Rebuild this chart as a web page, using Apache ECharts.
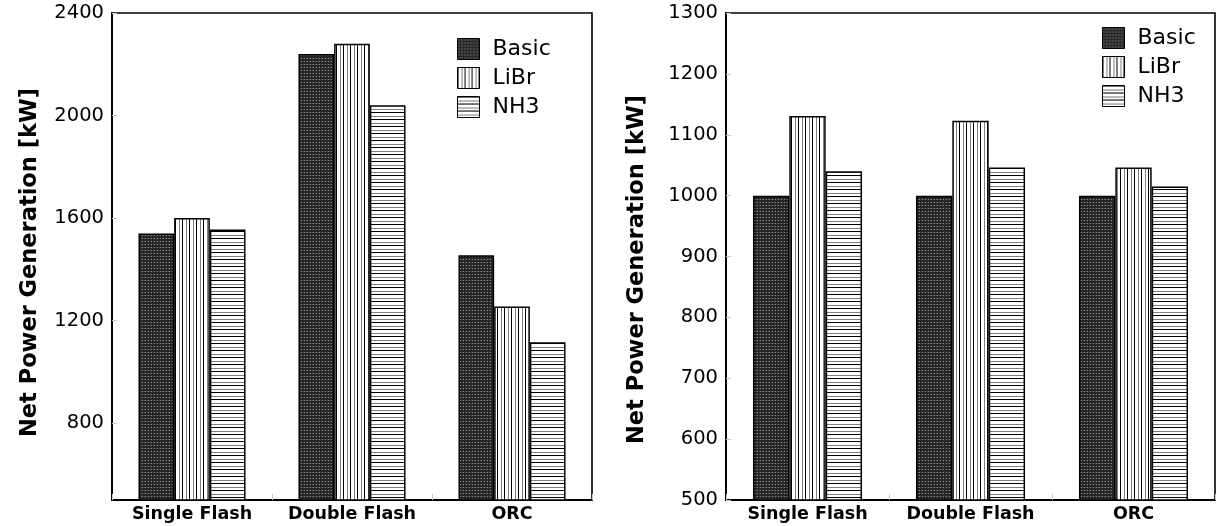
<!DOCTYPE html>
<html>
<head>
<meta charset="utf-8">
<script src="https://cdn.jsdelivr.net/npm/echarts@6/dist/echarts.min.js"></script>
<style>
  html, body { margin: 0; padding: 0; background: #fff; }
  #chart { width: 1216px; height: 526px; }
</style>
</head>
<body>
<div id="chart"></div>
<script>
// Plant configurations on the x axis
const categories = ['Single Flash', 'Double Flash', 'ORC'];
const seriesNames = ['Basic', 'LiBr', 'NH3'];

// Net power generation [kW], left panel
const leftBasic = [1540, 2240, 1455];
const leftLiBr = [1600, 2280, 1255];
const leftNH3 = [1555, 2040, 1115];
const leftTicks = [800, 1200, 1600, 2000, 2400];

// Net power generation [kW], right panel
const rightBasic = [1000, 1000, 1000];
const rightLiBr = [1131, 1123, 1046];
const rightNH3 = [1040, 1046, 1015];
const rightTicks = [500, 600, 700, 800, 900, 1000, 1100, 1200, 1300];

// Hatch fills for the three bar kinds
function makeTile(w, h, draw) {
  const c = document.createElement('canvas');
  c.width = w; c.height = h;
  const ctx = c.getContext('2d');
  draw(ctx, w, h);
  return { image: c, repeat: 'repeat' };
}
const dotFill = makeTile(3, 3, (ctx) => {
  ctx.fillStyle = '#262626'; ctx.fillRect(0, 0, 3, 3);
  ctx.fillStyle = '#8c8c8c'; ctx.fillRect(1, 1, 1, 1);
  ctx.fillStyle = '#4a4a4a'; ctx.fillRect(0, 1, 1, 1);
});
const vFill = makeTile(7, 4, (ctx) => {
  ctx.fillStyle = '#fff'; ctx.fillRect(0, 0, 7, 4);
  ctx.fillStyle = '#000'; ctx.fillRect(0, 0, 1, 4);
  ctx.fillStyle = '#808080'; ctx.fillRect(4, 0, 1, 4);
});
const hFill = makeTile(4, 7, (ctx) => {
  ctx.fillStyle = '#fff'; ctx.fillRect(0, 0, 4, 7);
  ctx.fillStyle = '#000'; ctx.fillRect(0, 0, 4, 1);
  ctx.fillStyle = '#808080'; ctx.fillRect(0, 4, 4, 1);
});
const fills = [dotFill, vFill, hFill];

const FONT = 'DejaVu Sans';

function xAxisFor(gridIndex) {
  return {
    type: 'category', gridIndex, data: categories,
    axisLine: { lineStyle: { color: '#000', width: 2 } },
    axisTick: { show: true, inside: true, length: 6, lineStyle: { color: '#c8c8c8' } },
    axisLabel: { interval: 0, color: '#000', fontFamily: FONT, fontWeight: 'bold', fontSize: 17.5, margin: 5 },
    splitLine: { show: false }
  };
}
function yAxisFor(gridIndex, min, max, ticks, nameGap, namePad) {
  return {
    type: 'value', gridIndex, min, max,
    name: 'Net Power Generation [kW]', nameLocation: 'middle', nameRotate: 90,
    nameGap,
    nameTextStyle: { color: '#000', fontFamily: FONT, fontWeight: 'bold', fontSize: 22.5, padding: namePad },
    axisLine: { show: true, lineStyle: { color: '#000', width: 2 } },
    axisTick: { show: true, inside: true, length: 5, customValues: ticks, lineStyle: { color: '#c8c8c8' } },
    axisLabel: {
      color: '#000', fontFamily: FONT, fontSize: 19.5, margin: 8, customValues: ticks,
      formatter: (v) => String(v)
    },
    splitLine: { show: false }
  };
}
function barsFor(index, values) {
  return values.map((vals, k) => ({
    name: seriesNames[k], type: 'bar',
    xAxisIndex: index, yAxisIndex: index,
    data: vals, barWidth: '22.3%', barGap: '0%',
    itemStyle: { color: fills[k], borderColor: '#000', borderWidth: 1.5 },
    emphasis: { disabled: true },
    animation: false
  }));
}
function legendFor(left, top) {
  return {
    left, top, orient: 'vertical', padding: 0,
    icon: 'rect', itemWidth: 22, itemHeight: 21, itemGap: 7,
    data: seriesNames,
    itemStyle: { borderWidth: 1 },
    textStyle: { color: '#000', fontFamily: FONT, fontSize: 22, padding: [0, 0, 0, 8] }
  };
}

const chart = echarts.init(document.getElementById('chart'), null, { renderer: 'canvas' });
chart.setOption({
  backgroundColor: '#fff',
  animation: false,
  grid: [
    { left: 112, top: 13, width: 480, height: 487, show: true, borderColor: '#000', borderWidth: 1.6, containLabel: false },
    { left: 726, top: 13, width: 489, height: 487, show: true, borderColor: '#000', borderWidth: 1.6, containLabel: false }
  ],
  xAxis: [xAxisFor(0), xAxisFor(1)],
  yAxis: [
    yAxisFor(0, 500, 2400, leftTicks, 70, [0, 12, 0, 0]),
    yAxisFor(1, 500, 1300, rightTicks, 77, [0, 26, 0, 0])
  ],
  legend: [legendFor(457, 38), legendFor(1102, 27)],
  series: [
    ...barsFor(0, [leftBasic, leftLiBr, leftNH3]),
    ...barsFor(1, [rightBasic, rightLiBr, rightNH3])
  ]
});
</script>
</body>
</html>
